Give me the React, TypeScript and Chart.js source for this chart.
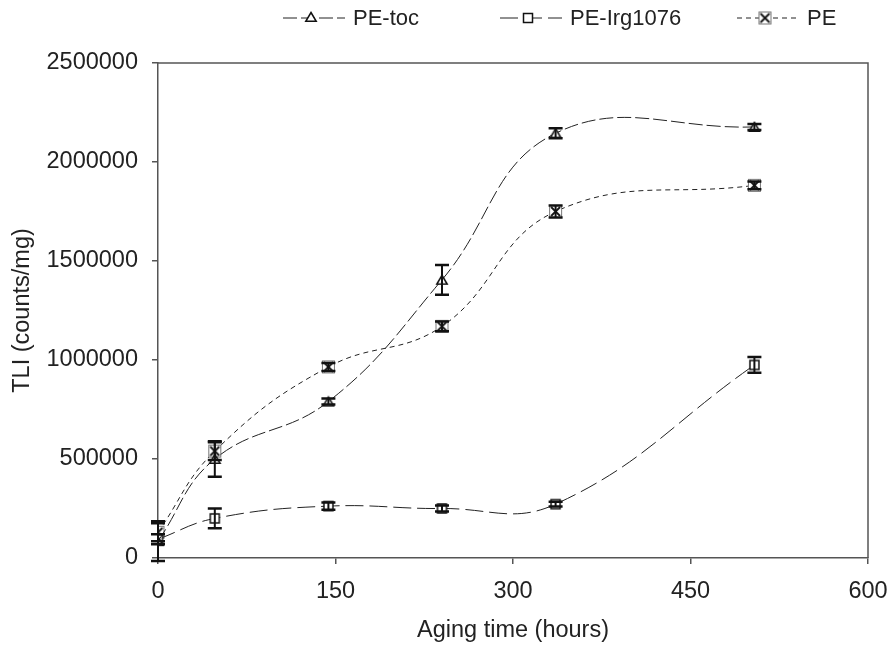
import { useEffect, useRef } from 'react';
import { Chart, registerables } from 'chart.js';

Chart.register(...registerables);

const hours = [0, 48, 144, 240, 336, 504];
const peTocValues = [85000, 500000, 790000, 1405000, 2145000, 2177000];
const peTocErrors = [100000, 90000, 15000, 75000, 25000, 15000];
const peIrgValues = [95000, 200000, 262000, 250000, 272000, 975000];
const peIrgErrors = [25000, 50000, 18000, 15000, 12000, 40000];
const peValues = [130000, 540000, 965000, 1170000, 1750000, 1882000];
const peErrors = [45000, 45000, 20000, 25000, 30000, 20000];
const xTicks = [0, 150, 300, 450, 600];
const yTicks = [0, 500000, 1000000, 1500000, 2000000, 2500000];
const seriesLabels = ['PE-toc', 'PE-Irg1076', 'PE'];

const FONT = "'Liberation Sans', Arial, Helvetica, sans-serif";
const TEXT = '#222';
const AXIS = '#555';
const FS = 23.5;

function makeBoxX(): HTMLCanvasElement {
  const c = document.createElement('canvas');
  c.width = 15;
  c.height = 15;
  const g = c.getContext('2d')!;
  g.fillStyle = '#fff';
  g.fillRect(1, 1, 13, 13);
  g.strokeStyle = '#777';
  g.lineWidth = 1;
  g.strokeRect(1.5, 1.5, 12, 12);
  g.strokeStyle = '#111';
  g.lineWidth = 1.8;
  g.beginPath();
  g.moveTo(3, 3);
  g.lineTo(12, 12);
  g.moveTo(12, 3);
  g.lineTo(3, 12);
  g.stroke();
  return c;
}

function drawMarker(ctx: CanvasRenderingContext2D, kind: string, x: number, y: number, boxX: HTMLCanvasElement) {
  ctx.save();
  ctx.setLineDash([]);
  ctx.strokeStyle = '#111';
  ctx.fillStyle = '#fff';
  ctx.lineWidth = 1.5;
  if (kind === 'triangle') {
    const r = 5.5;
    ctx.beginPath();
    ctx.moveTo(x, y - r);
    ctx.lineTo(x + r * 0.95, y + r * 0.6);
    ctx.lineTo(x - r * 0.95, y + r * 0.6);
    ctx.closePath();
    ctx.fill();
    ctx.stroke();
  } else if (kind === 'rect') {
    ctx.fillRect(x - 4.5, y - 4.5, 9, 9);
    ctx.strokeRect(x - 4.5, y - 4.5, 9, 9);
  } else {
    ctx.drawImage(boxX, x - 7.5, y - 7.5);
  }
  ctx.restore();
}

export default function App() {
  const ref = useRef<HTMLCanvasElement | null>(null);

  useEffect(() => {
    document.body.style.margin = '0';
    const canvas = ref.current!;
    const boxX = makeBoxX();
    const errs = [peTocErrors, peIrgErrors, peErrors];
    const dashes = [[14, 4], [18, 6], [5, 4]];
    const markers = ['triangle', 'rect', 'boxx'];

    const errorBars = {
      id: 'errorBars',
      afterDatasetsDraw(chart: any) {
        const ctx = chart.ctx as CanvasRenderingContext2D;
        const xs = chart.scales.x;
        const ys = chart.scales.y;
        ctx.save();
        ctx.strokeStyle = '#111';
        ctx.setLineDash([]);
        chart.data.datasets.forEach((ds: any, i: number) => {
          ds.data.forEach((p: any, j: number) => {
            const e = errs[i][j];
            const px = xs.getPixelForValue(p.x);
            const top = ys.getPixelForValue(p.y + e);
            const bot = ys.getPixelForValue(p.y - e);
            ctx.lineWidth = 2;
            ctx.beginPath();
            ctx.moveTo(px, top);
            ctx.lineTo(px, bot);
            ctx.stroke();
            ctx.lineWidth = 2.5;
            ctx.beginPath();
            ctx.moveTo(px - 7, top);
            ctx.lineTo(px + 7, top);
            ctx.moveTo(px - 7, bot);
            ctx.lineTo(px + 7, bot);
            ctx.stroke();
          });
        });
        ctx.restore();
      },
    };

    const frameAndLegend = {
      id: 'frameAndLegend',
      afterDraw(chart: any) {
        const ctx = chart.ctx as CanvasRenderingContext2D;
        const a = chart.chartArea;
        ctx.save();
        ctx.strokeStyle = AXIS;
        ctx.lineWidth = 1.5;
        ctx.beginPath();
        ctx.moveTo(a.left, a.top);
        ctx.lineTo(a.right, a.top);
        ctx.lineTo(a.right, a.bottom);
        ctx.stroke();

        const starts = [283, 500, 737];
        const y = 18;
        ctx.font = `22px ${FONT}`;
        ctx.fillStyle = TEXT;
        ctx.textBaseline = 'middle';
        ctx.textAlign = 'left';
        seriesLabels.forEach((label, i) => {
          const x0 = starts[i];
          ctx.strokeStyle = '#222';
          ctx.lineWidth = 1;
          ctx.setLineDash(dashes[i]);
          ctx.beginPath();
          ctx.moveTo(x0, y);
          ctx.lineTo(x0 + 62, y);
          ctx.stroke();
          drawMarker(ctx, markers[i], x0 + 28, y, boxX);
          ctx.fillText(label, x0 + 70, y + 1);
        });
        ctx.restore();
      },
    };

    const mk = (vals: number[]) => hours.map((h, i) => ({ x: h, y: vals[i] }));

    const tri = document.createElement('canvas');
    tri.width = 14; tri.height = 14;
    drawMarker(tri.getContext('2d')!, 'triangle', 7, 8, boxX);
    const sq = document.createElement('canvas');
    sq.width = 13; sq.height = 13;
    drawMarker(sq.getContext('2d')!, 'rect', 6.5, 6.5, boxX);
    const pointImgs: any[] = [tri, sq, boxX];

    const chart = new Chart(canvas, {
      type: 'line',
      data: {
        datasets: [peTocValues, peIrgValues, peValues].map((vals, i) => ({
          label: seriesLabels[i],
          data: mk(vals),
          borderColor: '#222',
          borderWidth: 1,
          borderDash: dashes[i],
          tension: 0.42,
          fill: false,
          pointStyle: pointImgs[i],
          pointRadius: 6,
        })),
      },
      options: {
        responsive: false,
        animation: false,
        layout: { padding: { top: 63, right: 23, left: 0, bottom: 0 } },
        plugins: { legend: { display: false }, tooltip: { enabled: false } },
        scales: {
          x: {
            type: 'linear',
            min: 0,
            max: 600,
            afterBuildTicks: (s: any) => { s.ticks = xTicks.map((v) => ({ value: v })); },
            afterFit: (s: any) => { s.height = 88; s.paddingLeft = 0; s.paddingRight = 0; },
            grid: { drawOnChartArea: false, drawTicks: true, tickLength: 6, color: AXIS, lineWidth: 1.5 },
            border: { color: AXIS, width: 1.5 },
            ticks: { font: { size: FS, family: FONT }, color: TEXT, padding: 13, maxRotation: 0, autoSkip: false },
            title: { display: true, text: 'Aging time (hours)', font: { size: FS, family: FONT }, color: TEXT, padding: { top: 1, bottom: 1 } },
          },
          y: {
            type: 'linear',
            min: 0,
            max: 2500000,
            afterBuildTicks: (s: any) => { s.ticks = yTicks.map((v) => ({ value: v })); },
            afterFit: (s: any) => { s.width = 158; s.paddingTop = 0; s.paddingBottom = 0; },
            grid: { drawOnChartArea: false, drawTicks: true, tickLength: 6, color: AXIS, lineWidth: 1.5 },
            border: { color: AXIS, width: 1.5 },
            ticks: { font: { size: FS, family: FONT }, color: TEXT, padding: 14, autoSkip: false, callback: (v: any) => String(v) },
            title: { display: true, text: 'TLI (counts/mg)', font: { size: FS, family: FONT }, color: TEXT, padding: { top: 8, bottom: 8 } },
          },
        },
      },
      plugins: [errorBars, frameAndLegend],
    });
    return () => chart.destroy();
  }, []);

  return (
    <div style={{ width: 891, height: 646 }}>
      <canvas ref={ref} width={891} height={646} style={{ display: 'block' }} />
    </div>
  );
}
